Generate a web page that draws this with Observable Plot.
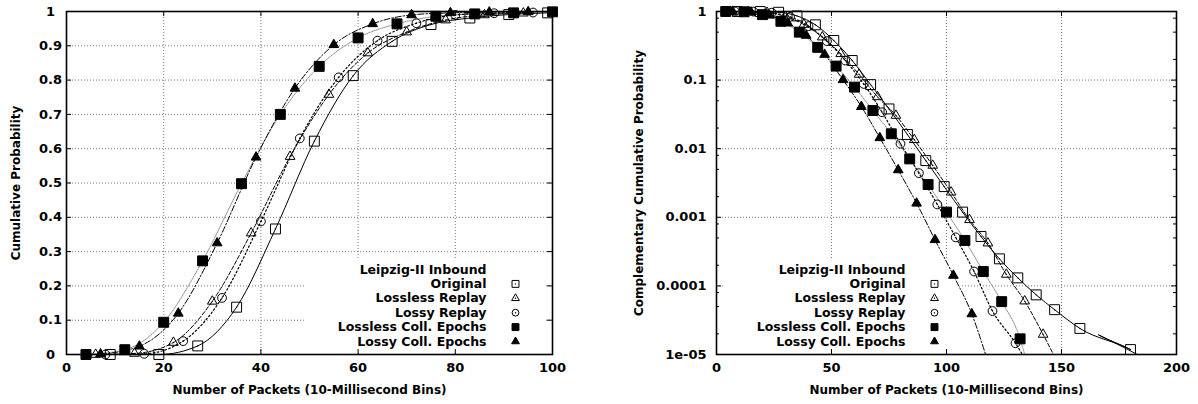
<!DOCTYPE html>
<html>
<head>
<meta charset="utf-8">
<script src="https://cdn.jsdelivr.net/npm/d3@7"></script>
<script src="https://cdn.jsdelivr.net/npm/@observablehq/plot@0.6"></script>
<style>
  body { margin: 0; background: #fff; }
  #chart { position: relative; width: 1198px; height: 404px; background: #fff; }
  #chart > svg { position: absolute; top: 0; }
</style>
</head>
<body>
<div id="chart"></div>
<script>
// Packet-count distributions (10 ms bins), Leipzig-II inbound trace.
// Each trace: bin positions of the plotted points, CDF values (up to 100 packets)
// and complementary CDF values (full range, log scale).
const seriesNames = ["Original", "Lossless Replay", "Lossy Replay", "Lossless Coll. Epochs", "Lossy Coll. Epochs"];

const originalBins = [9, 19, 27, 35, 43, 51, 59, 67, 75, 83, 91, 99, 107, 115, 123, 131, 139, 147, 158, 180];
const originalCdf = [0, 0, 0.025, 0.138, 0.366, 0.622, 0.813, 0.913, 0.962, 0.981, 0.991, 0.996];
const originalCcdf = [1, 0.999, 0.975, 0.862, 0.64, 0.378, 0.193, 0.086, 0.038, 0.0161, 0.0067, 0.0028,
  0.00119, 5.25e-4, 2.48e-4, 1.31e-4, 7.4e-5, 4.5e-5, 2.4e-5, 1.18e-5];

const losslessReplayBins = [6, 14, 22, 30, 38, 46, 54, 62, 70, 78, 86, 94, 102, 110, 118, 126, 134, 142];
const losslessReplayCdf = [0, 0.003, 0.035, 0.155, 0.354, 0.577, 0.758, 0.879, 0.94, 0.975, 0.99, 0.995];
const losslessReplayCcdf = [1, 0.997, 0.965, 0.845, 0.646, 0.423, 0.242, 0.121, 0.057, 0.0305, 0.0135, 0.0057,
  0.00232, 9.2e-4, 4.2e-4, 1.47e-4, 6.0e-5, 1.96e-5];

const lossyReplayBins = [8, 16, 24, 32, 40, 48, 56, 64, 72, 80, 88, 96, 104, 112, 120, 130];
const lossyReplayCdf = [0, 0.002, 0.039, 0.165, 0.388, 0.63, 0.808, 0.915, 0.966, 0.99, 0.995, 0.997];
const lossyReplayCcdf = [1, 0.998, 0.961, 0.835, 0.612, 0.37, 0.193, 0.088, 0.034, 0.0118, 0.0044, 0.00154,
  5.1e-4, 1.62e-4, 4.3e-5, 1.46e-5];

const losslessEpochsBins = [4, 12, 20, 28, 36, 44, 52, 60, 68, 76, 84, 92, 100, 108, 116, 124, 132];
const losslessEpochsCdf = [0, 0.014, 0.094, 0.273, 0.498, 0.7, 0.84, 0.923, 0.964, 0.986, 0.993, 0.996, 0.999];
const losslessEpochsCcdf = [1, 0.99, 0.9, 0.72, 0.5, 0.3, 0.16, 0.079, 0.036, 0.0165, 0.0071, 0.003,
  0.00119, 4.6e-4, 1.62e-4, 5.9e-5, 1.69e-5];

const lossyEpochsBins = [7, 15, 23, 31, 39, 47, 55, 63, 71, 79, 87, 95, 103, 111];
const lossyEpochsCdf = [0.001, 0.024, 0.12, 0.325, 0.575, 0.776, 0.903, 0.964, 0.99, 0.996, 0.998, 0.999];
const lossyEpochsCcdf = [1, 0.976, 0.88, 0.675, 0.447, 0.236, 0.101, 0.041, 0.0144, 0.0049, 0.0016, 4.7e-4,
  1.42e-4, 3.9e-5];

// Curve continuation of each CCDF trace past its last plotted point
const tailSeries = ["Original", "Original", "Original", "Lossless Replay", "Lossy Replay", "Lossless Coll. Epochs", "Lossy Coll. Epochs"];
const tailBins = [166, 174, 183, 146.5, 133, 134, 117];
const tailCcdf = [1.94e-5, 1.43e-5, 1e-5, 1e-5, 1e-5, 1e-5, 1e-5];

// Axis ticks and their labels
const cdfXTicks = [0, 20, 40, 60, 80, 100];
const cdfXLabels = ["0", "20", "40", "60", "80", "100"];
const cdfYTicks = [0, 0.1, 0.2, 0.3, 0.4, 0.5, 0.6, 0.7, 0.8, 0.9, 1];
const cdfYLabels = ["0", "0.1", "0.2", "0.3", "0.4", "0.5", "0.6", "0.7", "0.8", "0.9", "1"];
const ccdfXTicks = [0, 50, 100, 150, 200];
const ccdfXLabels = ["0", "50", "100", "150", "200"];
const ccdfYTicks = [1e-5, 1e-4, 1e-3, 1e-2, 1e-1, 1];
const ccdfYLabels = ["1e-05", "0.0001", "0.001", "0.01", "0.1", "1"];
const ccdfYMinorTicks = [2e-5, 5e-5, 8e-5, 2e-4, 5e-4, 8e-4, 2e-3, 5e-3, 8e-3, 0.02, 0.05, 0.08, 0.2, 0.5, 0.8];

const legendTitle = "Leipzig-II Inbound";
const xTitle = "Number of Packets (10-Millisecond Bins)";
const cdfYTitle = "Cumulative Probability";
const ccdfYTitle = "Complementary Cumulative Probability";

// ---- build tables ----
const traces = [
  [originalBins, originalCdf, originalCcdf],
  [losslessReplayBins, losslessReplayCdf, losslessReplayCcdf],
  [lossyReplayBins, lossyReplayCdf, lossyReplayCcdf],
  [losslessEpochsBins, losslessEpochsCdf, losslessEpochsCcdf],
  [lossyEpochsBins, lossyEpochsCdf, lossyEpochsCcdf]
];
const cdfRows = [], ccdfRows = [];
traces.forEach(([bins, cdf, ccdf], k) => {
  cdf.forEach((v, i) => cdfRows.push({series: seriesNames[k], bin: bins[i], value: v}));
  ccdf.forEach((v, i) => ccdfRows.push({series: seriesNames[k], bin: bins[i], value: v}));
});
const ccdfLineRows = ccdfRows.concat(tailSeries.map((s, i) => ({series: s, bin: tailBins[i], value: tailCcdf[i]})));

// Drawing style of each trace
const look = {
  "Original":              {symbol: "square",   filled: false, r: 5.6, lr: 3.9, stroke: "#000", dash: null,        width: 1},
  "Lossless Replay":       {symbol: "triangle", filled: false, r: 3.6, lr: 2.9, stroke: "#000", dash: "4,2",       width: 1},
  "Lossy Replay":          {symbol: "circle",   filled: false, r: 4.4, lr: 3.4, stroke: "#000", dash: "1.6,2.4",   width: 1.2},
  "Lossless Coll. Epochs": {symbol: "square",   filled: true,  r: 5.6, lr: 3.9, stroke: "#8a8a8a", dash: "1,1",  width: 1},
  "Lossy Coll. Epochs":    {symbol: "triangle", filled: true,  r: 3.6, lr: 2.9, stroke: "#000", dash: "6,2,1.5,2", width: 1}
};
const drawOrder = ["Lossless Coll. Epochs", "Lossy Coll. Epochs", "Lossy Replay", "Lossless Replay", "Original"];

const W = 599, H = 404;
const gridStyle = {stroke: "#7a7a7a", strokeOpacity: 1, strokeWidth: 1, strokeDasharray: "1,2"};
const textStyle = {fontFamily: "DejaVu Sans, Liberation Sans, sans-serif", fontWeight: "bold", fontSize: "12px", background: "white", overflow: "visible"};
const tickFont = 13;
const keyFont = 12.5;

// White panel behind the key, in frame-relative pixels
function keyBox(left, right, top, bottom) {
  return (index, scales, values, dims) => d3.create("svg:rect")
    .attr("x", dims.marginLeft + left)
    .attr("y", dims.marginTop + top)
    .attr("width", right - left)
    .attr("height", bottom - top)
    .attr("fill", "white")
    .node();
}

function seriesMarks(lineRows, dotRows) {
  const marks = [];
  for (const s of drawOrder) {
    const L = look[s];
    marks.push(Plot.line(lineRows.filter(d => d.series === s), {
      x: "bin", y: "value", curve: "monotone-x", clip: true,
      stroke: L.stroke, strokeWidth: L.width, strokeDasharray: L.dash
    }));
  }
  for (const s of drawOrder) {
    const L = look[s];
    const rows = dotRows.filter(d => d.series === s);
    marks.push(Plot.dot(rows, {
      x: "bin", y: "value", symbol: L.symbol, r: L.r,
      fill: L.filled ? "#000" : "none", stroke: "#000", strokeWidth: 1
    }));
    if (!L.filled) marks.push(Plot.dot(rows, {x: "bin", y: "value", r: 0.7, fill: "#000", stroke: "none"}));
  }
  return marks;
}

function keyMarks(textRight, symbolX) {
  const rows = [legendTitle].concat(seriesNames);
  const marks = [];
  rows.forEach((label, i) => {
    const dy = -85 + i * 14.4;
    marks.push(Plot.text([label], {
      frameAnchor: "bottom-left", dx: textRight, dy, textAnchor: "end", lineAnchor: "middle",
      fill: "#000", fontWeight: "bold", fontSize: keyFont
    }));
    if (i > 0) {
      const L = look[label];
      marks.push(Plot.dot([label], {
        frameAnchor: "bottom-left", dx: symbolX, dy, symbol: L.symbol, r: L.lr,
        fill: L.filled ? "#000" : "none", stroke: "#000", strokeWidth: 1
      }));
      if (!L.filled) marks.push(Plot.dot([label], {frameAnchor: "bottom-left", dx: symbolX, dy, r: 0.7, fill: "#000", stroke: "none"}));
    }
  });
  return marks;
}

function tickMarks(xTicks, yTicks, frameW, frameH, len) {
  return [
    Plot.tickX(xTicks, {x: d => d, insetTop: frameH - len, stroke: "#000"}),
    Plot.tickX(xTicks, {x: d => d, insetBottom: frameH - len, stroke: "#000"}),
    Plot.tickY(yTicks, {y: d => d, insetRight: frameW - len, stroke: "#000"}),
    Plot.tickY(yTicks, {y: d => d, insetLeft: frameW - len, stroke: "#000"})
  ];
}

// ---- left panel: CDF ----
const L_ML = 66, L_MR = 47, MT = 11, MB = 50;
const leftW = W - L_ML - L_MR, frameH = H - MT - MB;
const cdfPlot = Plot.plot({
  width: W, height: H, marginLeft: L_ML, marginRight: L_MR, marginTop: MT, marginBottom: MB,
  x: {domain: [0, 100]},
  y: {domain: [0, 1]},
  style: textStyle,
  marks: [
    Plot.gridX(cdfXTicks.slice(1, -1), gridStyle),
    Plot.gridY(cdfYTicks.slice(1, -1), gridStyle),
    keyBox(239, 479, 247, 340),
    ...tickMarks(cdfXTicks, cdfYTicks, leftW, frameH, 5),
    Plot.axisX(cdfXTicks, {tickSize: 0, tickPadding: 8, label: null, fill: "#000", fontSize: tickFont,
      tickFormat: d => cdfXLabels[cdfXTicks.indexOf(d)]}),
    Plot.axisY(cdfYTicks, {anchor: "left", tickSize: 0, tickPadding: 16, textAnchor: "middle", label: null, fill: "#000", fontSize: tickFont,
      tickFormat: d => cdfYLabels[cdfYTicks.indexOf(d)]}),
    Plot.text([xTitle], {frameAnchor: "bottom", dy: 36, textAnchor: "middle", lineAnchor: "middle", fill: "#000"}),
    Plot.text([cdfYTitle], {frameAnchor: "left", dx: -50, rotate: -90, textAnchor: "middle", lineAnchor: "middle", fill: "#000"}),
    ...seriesMarks(cdfRows, cdfRows),
    Plot.frame({stroke: "#000", strokeWidth: 1.6}),
    ...keyMarks(420, 449)
  ]
});

// ---- right panel: CCDF on a log scale ----
const R_ML = 117, R_MR = 22;
const rightW = W - R_ML - R_MR;
const ccdfPlot = Plot.plot({
  width: W, height: H, marginLeft: R_ML, marginRight: R_MR, marginTop: MT, marginBottom: MB,
  x: {domain: [0, 200]},
  y: {type: "log", domain: [1e-5, 1]},
  style: textStyle,
  marks: [
    Plot.gridX(ccdfXTicks.slice(1, -1), gridStyle),
    Plot.gridY(ccdfYTicks.slice(1, -1), gridStyle),
    keyBox(7, 246, 249, 341),
    ...tickMarks(ccdfXTicks, ccdfYTicks, rightW, frameH, 5),
    Plot.tickY(ccdfYMinorTicks, {y: d => d, insetRight: rightW - 3, stroke: "#000"}),
    Plot.tickY(ccdfYMinorTicks, {y: d => d, insetLeft: rightW - 3, stroke: "#000"}),
    Plot.axisX(ccdfXTicks, {tickSize: 0, tickPadding: 8, label: null, fill: "#000", fontSize: tickFont,
      tickFormat: d => ccdfXLabels[ccdfXTicks.indexOf(d)]}),
    Plot.axisY(ccdfYTicks, {anchor: "left", tickSize: 0, tickPadding: 10, label: null, fill: "#000", fontSize: tickFont,
      tickFormat: d => ccdfYLabels[ccdfYTicks.indexOf(d)]}),
    Plot.text([xTitle], {frameAnchor: "bottom", dy: 36, textAnchor: "middle", lineAnchor: "middle", fill: "#000"}),
    Plot.text([ccdfYTitle], {frameAnchor: "left", dx: -77, rotate: -90, textAnchor: "middle", lineAnchor: "middle", fill: "#000"}),
    ...seriesMarks(ccdfLineRows, ccdfRows),
    Plot.frame({stroke: "#000", strokeWidth: 1.6}),
    ...keyMarks(189, 218)
  ]
});

const chart = document.getElementById("chart");
cdfPlot.style.left = "0px";
ccdfPlot.style.left = W + "px";
chart.appendChild(cdfPlot);
chart.appendChild(ccdfPlot);
</script>
</body>
</html>
